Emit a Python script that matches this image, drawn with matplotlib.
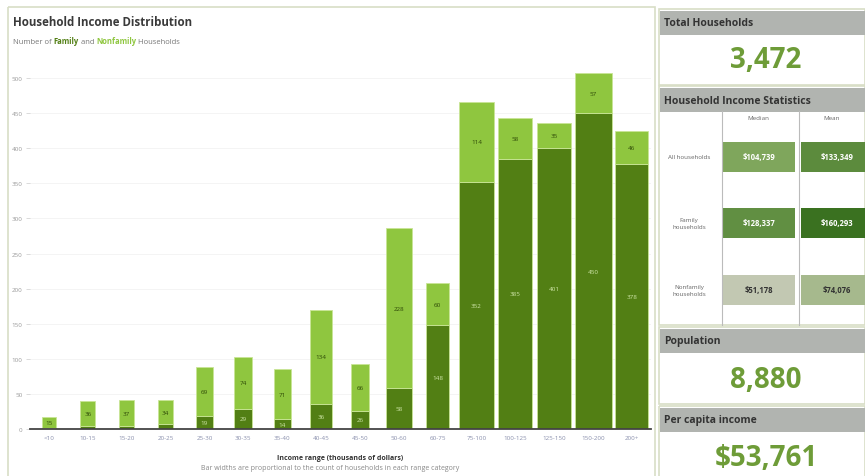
import matplotlib

matplotlib.use("Agg")
import matplotlib.pyplot as plt
from matplotlib.patches import Rectangle
from matplotlib.colors import LinearSegmentedColormap, Normalize
import numpy as np

# income ranges (thousands of dollars)
ranges = ["<10", "10-15", "15-20", "20-25", "25-30", "30-35", "35-40", "40-45",
          "45-50", "50-60", "60-75", "75-100", "100-125", "125-150", "150-200", "200+"]
family = [2, 4, 4, 7, 19, 29, 14, 36, 26, 58, 148, 352, 385, 401, 450, 378]
nonfamily = [15, 36, 37, 34, 69, 74, 71, 134, 66, 228, 60, 114, 58, 35, 57, 46]
y_ticks = list(range(0, 501, 50))

total_households = "3,472"
population = "8,880"
per_capita = "$53,761"
stat_rows = ["All households", "Family\nhouseholds", "Nonfamily\nhouseholds"]
stat_cols = ["Median", "Mean"]
median_income = [104739, 128337, 51178]
mean_income = [133349, 160293, 74076]

DARK = "#527f14"
LIGHT = "#8fc63f"
NUM = "#6e9c38"
HEAD = "#b1b4b0"
BORDER = "#d8dec6"

plt.rcParams["font.family"] = ["Open Sans", "DejaVu Sans"]

fig = plt.figure(figsize=(8.65, 4.77), dpi=100)
fig.patch.set_facecolor("white")

# background layer in pixel coordinates
bg = fig.add_axes([0, 0, 1, 1])
bg.set_xlim(0, 865)
bg.set_ylim(477, 0)
bg.axis("off")

bg.add_patch(Rectangle((8, 8), 647, 472, fill=False, edgecolor=BORDER, lw=1.2))
bg.text(13, 23, "Household Income Distribution", fontsize=8.3, fontweight="bold",
        color="#3a3a3a", va="center")
t = bg.text(13, 42, "Number of ", fontsize=5.5, color="#777777", va="center")
t = bg.annotate("Family", xy=(1, 0), xycoords=t, fontsize=5.5, fontweight="bold",
                color=DARK, va="bottom")
t = bg.annotate(" and ", xy=(1, 0), xycoords=t, fontsize=5.5, color="#777777", va="bottom")
t = bg.annotate("Nonfamily", xy=(1, 0), xycoords=t, fontsize=5.5, fontweight="bold",
                color=LIGHT, va="bottom")
bg.annotate(" Households", xy=(1, 0), xycoords=t, fontsize=5.5, color="#777777", va="bottom")

bg.text(340, 459, "Income range (thousands of dollars)", fontsize=5, fontweight="bold",
        color="#333333", ha="center", va="center")
bg.text(330, 469, "Bar widths are proportional to the count of households in each range category",
        fontsize=5, color="#888888", ha="center", va="center")

# main chart
ax = fig.add_axes([29.6 / 865, 47 / 477, 621.8 / 865, 365 / 477])
ax.patch.set_alpha(0)
x = np.arange(len(ranges))
fam = np.array(family)
nonfam = np.array(nonfamily)
totals = fam + nonfam
widths = 0.34 + 0.61 * totals / totals.max()

ax.bar(x, fam, width=widths, color=DARK, edgecolor="#c9e596", linewidth=0.6, zorder=3)
ax.bar(x, nonfam, bottom=fam, width=widths, color=LIGHT, edgecolor="#c9e596",
       linewidth=0.6, zorder=3)

for i in range(len(ranges)):
    if fam[i] >= 10:
        ax.text(x[i], fam[i] / 2, str(fam[i]), fontsize=4.5, ha="center", va="center",
                color="#cfe6a8", zorder=4)
    if nonfam[i] >= 10:
        ax.text(x[i], fam[i] + nonfam[i] / 2, str(nonfam[i]), fontsize=4.5, ha="center",
                va="center", color="#2f4a08", zorder=4)

ax.set_xlim(-0.5, len(ranges) - 0.5)
ax.set_ylim(0, 520)
ax.set_yticks(y_ticks)
ax.set_xticks(x)
ax.set_xticklabels(ranges)
ax.tick_params(axis="x", length=0, labelsize=4.5, labelcolor="#8a90ad", pad=4)
ax.tick_params(axis="y", length=3, width=0.5, color="#cccccc", labelsize=4.5,
               labelcolor="#999999", pad=2)
for side in ["top", "right", "left"]:
    ax.spines[side].set_visible(False)
ax.spines["bottom"].set_color("#444444")
ax.spines["bottom"].set_linewidth(1.3)
ax.spines["bottom"].set_zorder(5)
ax.grid(axis="y", color="#f2f2f2", linewidth=0.6, zorder=0)

# right side panels
def panel(top, bottom, title):
    bg.add_patch(Rectangle((659, top), 206, bottom - top, fill=False, edgecolor=BORDER, lw=1.2))
    bg.add_patch(Rectangle((660, top + 2), 205, 24, color=HEAD, lw=0))
    bg.text(664, top + 14, title, fontsize=7.5, fontweight="bold", color="#333333", va="center")


panel(10, 86, "Total Households")
bg.text(766, 61, total_households, fontsize=20, fontweight="bold", color=NUM,
        ha="center", va="center")

panel(87, 326, "Household Income Statistics")
col_x = [758, 832]
for cx, name in zip(col_x, stat_cols):
    bg.text(cx, 119, name, fontsize=4.5, color="#666666", ha="center", va="center")
bg.plot([722, 722], [112, 326], color="#bbbbbb", lw=0.8)
bg.plot([799, 799], [112, 326], color="#bbbbbb", lw=0.8)

cmap = LinearSegmentedColormap.from_list("g", ["#c2c8b2", "#7ea55a", "#3a7120"])
vals = median_income + mean_income
norm = Normalize(min(vals), max(vals))
row_y = [158, 224, 291]
for ry, name, med, mean in zip(row_y, stat_rows, median_income, mean_income):
    bg.text(689, ry, name, fontsize=4.5, color="#666666", ha="center", va="center",
            linespacing=1.6)
    for (x0, w), v in zip([(723, 72), (801, 64)], [med, mean]):
        bg.add_patch(Rectangle((x0, ry - 15), w, 30, color=cmap(norm(v)), lw=0))
        tc = "white" if norm(v) > 0.35 else "#333333"
        bg.text(x0 + 36, ry, f"${v:,}", fontsize=5.5, fontweight="bold", color=tc,
                ha="center", va="center")

panel(328, 405, "Population")
bg.text(766, 381, population, fontsize=20, fontweight="bold", color=NUM,
        ha="center", va="center")

panel(407, 480, "Per capita income")
bg.text(766, 459, per_capita, fontsize=20, fontweight="bold", color=NUM,
        ha="center", va="center")

plt.savefig("out.png", dpi=100, facecolor="white")
plt.close()
